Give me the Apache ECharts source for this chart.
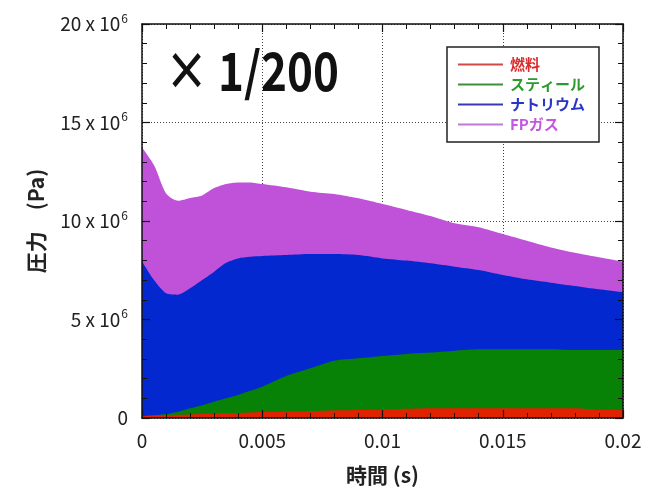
<!DOCTYPE html>
<html>
<head>
<meta charset="utf-8">
<script src="https://cdn.jsdelivr.net/npm/echarts@6/dist/echarts.min.js"></script>
<style>
html, body {margin: 0; padding: 0; background: #fff;}
#chart {width: 650px; height: 492px;}
</style>
</head>
<body>
<div id="chart"></div>
<script>
// DATA (pressure in units of 10^6 Pa, each layer's own share, bottom -> top)
const times = [0, 0.0005, 0.001, 0.0015, 0.002, 0.0025, 0.003, 0.0035, 0.004, 0.0045, 0.005,
  0.006, 0.007, 0.008, 0.009, 0.01, 0.011, 0.012, 0.013, 0.014, 0.015, 0.016, 0.017, 0.018, 0.019, 0.02];
const fuel   = [0.10, 0.12, 0.14, 0.16, 0.18, 0.20, 0.22, 0.24, 0.26, 0.28, 0.30,
  0.32, 0.35, 0.38, 0.40, 0.43, 0.47, 0.50, 0.50, 0.50, 0.50, 0.50, 0.50, 0.50, 0.42, 0.42];
const steel  = [0.00, 0.02, 0.06, 0.16, 0.31, 0.45, 0.61, 0.76, 0.91, 1.10, 1.29,
  1.81, 2.17, 2.53, 2.63, 2.72, 2.78, 2.82, 2.92, 2.99, 2.99, 2.99, 2.99, 2.95, 3.03, 3.03];
const sodium = [7.84, 6.86, 6.13, 5.94, 6.09, 6.35, 6.60, 6.88, 6.93, 6.80, 6.63,
  6.14, 5.80, 5.41, 5.24, 4.95, 4.74, 4.53, 4.26, 4.02, 3.77, 3.55, 3.38, 3.25, 3.08, 2.93];
const fpgas  = [5.81, 5.84, 5.07, 4.77, 4.59, 4.30, 4.24, 4.00, 3.86, 3.78, 3.66,
  3.44, 3.17, 3.05, 2.88, 2.76, 2.57, 2.40, 2.20, 2.17, 2.08, 1.96, 1.79, 1.69, 1.63, 1.56];

const names = ["燃料", "スティール", "ナトリウム", "FPガス"];
const area_colors = ["#e02200", "#078207", "#0428d0", "#bf52d9"];
const line_colors = ["#d04a4a", "#3f8f3f", "#3a3ab0", "#c07ad6"];
const text_colors = ["#dd2a2a", "#2e9a2e", "#2a35c8", "#c456e0"];

const y_ticks = {min: 0, max: 20, interval: 5};
const x_ticks = {min: 0, max: 0.02, interval: 0.005};

const FONT = '"Noto Sans CJK JP", "Noto Sans", sans-serif';

function createEChart(element){
  return echarts.init(element, null, {renderer: 'canvas'});
}

// value-value axes do not stack on y, so build the running totals here
function cumulative(layers){
  const totals = [];
  let running = times.map(() => 0);
  layers.forEach((values) => {
    running = running.map((r, k) => r + values[k]);
    totals.push(running);
  });
  return totals;
}

function frameAxis(extra, ticks){
  return Object.assign({
    type: 'value', ...ticks, z: 5,
    axisLine: {show: true, onZero: false, lineStyle: {color: '#111', width: 1.5}},
    axisTick: {show: true, inside: true, length: 8, lineStyle: {color: '#111', width: 1.2}},
    minorTick: {show: true, splitNumber: 5, length: 5, lineStyle: {color: '#111', width: 1}},
    axisLabel: {show: false},
    splitLine: {show: false}
  }, extra);
}

function gridAxis(position, ticks){
  return {
    type: 'value', position, ...ticks, z: 0,
    axisLine: {show: false}, axisTick: {show: false}, axisLabel: {show: false},
    splitLine: {show: true, lineStyle: {color: '#444', type: [1, 2], width: 1}}
  };
}

function yLabel(v){
  if(v === 0) return '{n|0}';
  return '{n|' + v + ' x 10}{s|6}';
}

function pressurePlot(){
  const totals = cumulative([fuel, steel, sodium, fpgas]);
  const label_style = {color: '#222', fontSize: 19, fontFamily: FONT};
  const title_style = {fontSize: 21, fontWeight: 'bold', color: '#222', fontFamily: FONT};

  // top layer first so the lower ones are painted over it
  const order = [3, 2, 1, 0];

  return {
    backgroundColor: '#fff',
    animation: false,
    grid: {left: 142, right: 27, top: 24, bottom: 74},
    legend: {
      orient: 'vertical', left: 447, top: 47,
      padding: [10, 14, 10, 11], itemGap: 5,
      itemWidth: 45, itemHeight: 2, icon: 'rect',
      backgroundColor: '#fff', borderColor: '#222', borderWidth: 1.5, borderRadius: 0,
      selectedMode: false,
      textStyle: {fontSize: 15, fontWeight: 'bold', fontFamily: FONT, padding: [0, 0, 0, 2]},
      data: names.map((name, i) => ({
        name, itemStyle: {color: line_colors[i]}, textStyle: {color: text_colors[i]}
      }))
    },
    xAxis: [
      frameAxis({
        position: 'bottom',
        axisLabel: {show: true, margin: 13, ...label_style},
        name: '時間 (s)', nameLocation: 'middle', nameGap: 47,
        nameTextStyle: title_style
      }, x_ticks),
      frameAxis({position: 'top'}, x_ticks),
      gridAxis('bottom', x_ticks)
    ],
    yAxis: [
      frameAxis({
        position: 'left',
        axisLabel: {
          show: true, margin: 14, formatter: yLabel,
          rich: {
            n: {...label_style},
            s: {color: '#222', fontSize: 12, fontFamily: FONT, padding: [0, 0, 12, 1]}
          }
        },
        name: '圧力\u3000(Pa)', nameLocation: 'middle', nameGap: 95,
        nameTextStyle: title_style
      }, y_ticks),
      frameAxis({position: 'right'}, y_ticks),
      gridAxis('left', y_ticks)
    ],
    graphic: [{
      type: 'text', x: 165, y: 44, scaleX: 0.83, z: 10,
      style: {
        text: '{a|×}{b|1/200}',
        rich: {
          a: {fontSize: 52, fontWeight: 'bold', fill: '#111', fontFamily: FONT},
          b: {fontSize: 53, fontWeight: 'bold', fill: '#111', fontFamily: FONT, padding: [0, 0, 0, 12]}
        }
      }
    }],
    series: order.map((i) => ({
      name: names[i],
      type: 'line',
      xAxisIndex: 0, yAxisIndex: 0,
      symbol: 'none',
      smooth: 0.25,
      data: times.map((t, k) => [t, totals[i][k]]),
      lineStyle: {width: 0, color: line_colors[i]},
      itemStyle: {color: line_colors[i]},
      areaStyle: {color: area_colors[i], opacity: 1}
    }))
  };
}

const plot = createEChart(document.getElementById('chart'));
plot.setOption(pressurePlot());
</script>
</body>
</html>
